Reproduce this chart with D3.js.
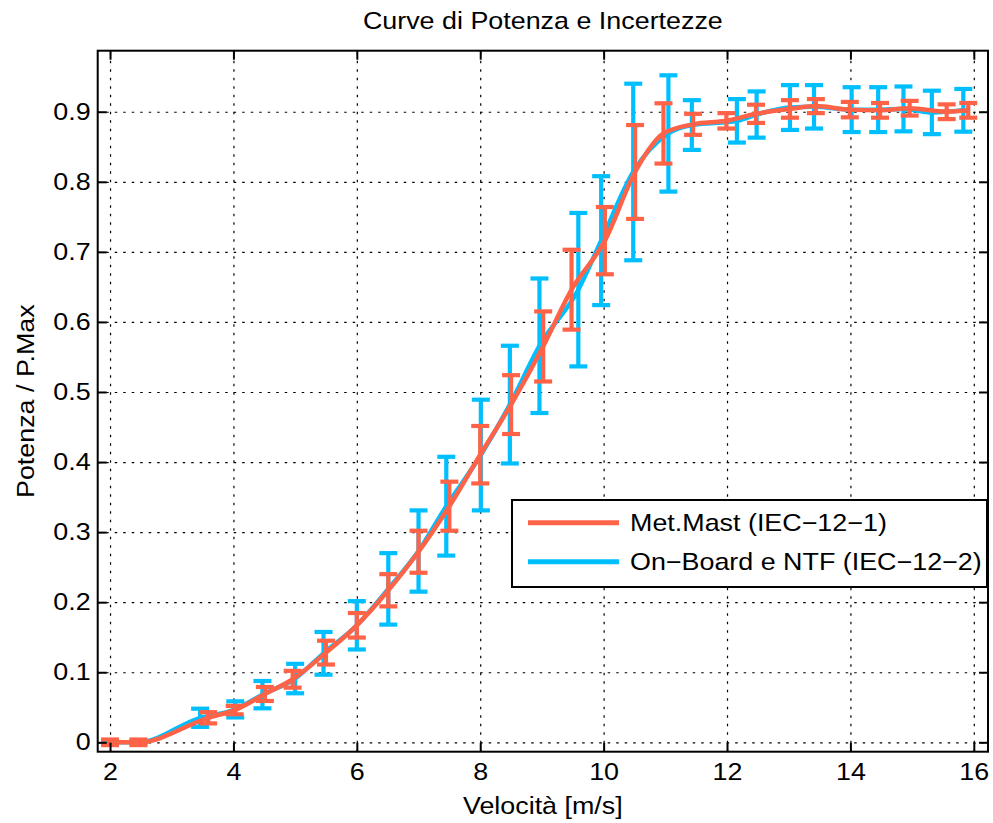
<!DOCTYPE html>
<html>
<head>
<meta charset="utf-8">
<script src="https://cdn.jsdelivr.net/npm/d3@7"></script>
<style>
  body { margin: 0; background: #fff; }
  svg text { font-family: "Liberation Sans", Arial, Helvetica, sans-serif; fill: #000; }
</style>
</head>
<body>
<svg id="chart" width="993" height="823"></svg>
<script>
// Met.Mast (IEC-12-1): wind speed bins, normalised power, uncertainty
const mastSpeed = [2.0, 2.46, 3.59, 4.02, 4.51, 4.96, 5.5, 6.0, 6.51, 7.0, 7.5, 8.0, 8.5, 9.02,
  9.48, 10.02, 10.51, 10.97, 11.45, 11.99, 12.47, 13.02, 13.44, 13.99, 14.48, 14.96, 15.56, 15.91];
const mastPower = [0, 0, 0.035, 0.046, 0.069, 0.090, 0.128, 0.167, 0.217, 0.272, 0.337, 0.4105, 0.482, 0.565,
  0.646, 0.716, 0.814, 0.869, 0.882, 0.887, 0.897, 0.904, 0.908, 0.903, 0.902, 0.905, 0.900, 0.902];
const mastErr = [0.004, 0.004, 0.008, 0.006, 0.010, 0.012, 0.017, 0.0175, 0.023, 0.030, 0.035, 0.041, 0.042, 0.050,
  0.057, 0.048, 0.067, 0.043, 0.015, 0.011, 0.013, 0.0125, 0.010, 0.011, 0.0105, 0.0105, 0.0105, 0.0105];

// On-Board e NTF (IEC-12-2)
const boardSpeed = [2.0, 2.46, 3.46, 4.03, 4.47, 5.0, 5.46, 6.0, 6.51, 7.0, 7.45, 8.01, 8.48, 8.96,
  9.59, 9.96, 10.48, 11.05, 11.43, 12.16, 12.48, 13.02, 13.41, 14.02, 14.45, 14.86, 15.32, 15.83];
const boardPower = [0, 0, 0.035, 0.047, 0.068, 0.091, 0.127, 0.167, 0.219, 0.273, 0.337, 0.41, 0.482, 0.566,
  0.646, 0.716, 0.814, 0.869, 0.881, 0.887, 0.896, 0.906, 0.907, 0.903, 0.903, 0.904, 0.899, 0.902];
const boardErr = [0.002, 0.002, 0.013, 0.0115, 0.0195, 0.021, 0.0305, 0.0345, 0.051, 0.058, 0.0705, 0.079, 0.084, 0.096,
  0.1095, 0.092, 0.126, 0.083, 0.0355, 0.031, 0.033, 0.032, 0.031, 0.032, 0.032, 0.032, 0.031, 0.0305];

const xTicks = [2, 4, 6, 8, 10, 12, 14, 16];
const yTicks = [0, 0.1, 0.2, 0.3, 0.4, 0.5, 0.6, 0.7, 0.8, 0.9];
const seriesNames = ["Met.Mast (IEC\u221212\u22121)", "On\u2212Board e NTF (IEC\u221212\u22122)"];
const seriesColors = ["#FF6347", "#00BFFF"];
const titleText = "Curve di Potenza e Incertezze";
const xLabelText = "Velocit\u00e0 [m/s]";
const yLabelText = "Potenza / P.Max";

// ---- layout ----
const plotL = 97.7, plotR = 988, plotT = 50.7, plotB = 751.7;
const STRETCH = 1.12;      // wide text rendering
const FONT = 24;

const svg = d3.select("#chart");
const x = d3.scaleLinear().domain([1.8, 16.23]).range([plotL, plotR]);
const y = d3.scaleLinear().domain([-0.0134, 0.9871]).range([plotB, plotT]);

function wideText(g, px, py, str, anchor, rotate) {
  return g.append("text")
    .attr("transform", `translate(${px},${py})` + (rotate ? ` rotate(${rotate})` : "") + ` scale(${STRETCH},1)`)
    .attr("text-anchor", anchor || "start")
    .attr("font-size", FONT)
    .text(str);
}

// ---- grid ----
const grid = svg.append("g").attr("class", "grid");
grid.append("g")
  .attr("transform", `translate(0,${plotB})`)
  .call(d3.axisBottom(x).tickValues(xTicks).tickSize(-(plotB - plotT)).tickFormat(""))
  .call(g => g.select(".domain").remove());
grid.append("g")
  .attr("transform", `translate(${plotL},0)`)
  .call(d3.axisLeft(y).tickValues(yTicks).tickSize(-(plotR - plotL)).tickFormat(""))
  .call(g => g.select(".domain").remove());
grid.selectAll("line")
  .attr("stroke", "#000")
  .attr("stroke-width", 1.2)
  .attr("stroke-dasharray", "2.5,6");

// ---- series ----
const series = [
  { speed: boardSpeed, power: boardPower, err: boardErr, color: seriesColors[1] },
  { speed: mastSpeed, power: mastPower, err: mastErr, color: seriesColors[0] }
];
const line = d3.line().x(d => x(d.s)).y(d => y(d.p)).curve(d3.curveMonotoneX);
const capHalf = 9;

series.forEach(sr => {
  const pts = sr.speed.map((s, i) => ({ s, p: sr.power[i], e: sr.err[i] }));
  const g = svg.append("g");
  g.append("path").datum(pts)
    .attr("d", line)
    .attr("fill", "none")
    .attr("stroke", sr.color)
    .attr("stroke-width", 4.5)
    .attr("stroke-linejoin", "round");
  const eb = g.selectAll("g.eb").data(pts).join("g").attr("class", "eb")
    .attr("stroke", sr.color).attr("stroke-width", 4.2);
  eb.append("line")
    .attr("x1", d => x(d.s)).attr("x2", d => x(d.s))
    .attr("y1", d => y(d.p - d.e)).attr("y2", d => y(d.p + d.e));
  eb.append("line")
    .attr("x1", d => x(d.s) - capHalf).attr("x2", d => x(d.s) + capHalf)
    .attr("y1", d => y(d.p + d.e)).attr("y2", d => y(d.p + d.e));
  eb.append("line")
    .attr("x1", d => x(d.s) - capHalf).attr("x2", d => x(d.s) + capHalf)
    .attr("y1", d => y(d.p - d.e)).attr("y2", d => y(d.p - d.e));
});

// ---- axes (inward ticks on all four sides) ----
const tickLen = 9;
const axes = svg.append("g").attr("class", "axes");

const xAxis = axes.append("g")
  .attr("transform", `translate(0,${plotB})`)
  .call(d3.axisBottom(x).tickValues(xTicks).tickSizeInner(-tickLen).tickSizeOuter(0).tickPadding(11)
    .tickFormat(d3.format("d")));
xAxis.selectAll("text")
  .attr("font-size", FONT)
  .attr("transform", `scale(${STRETCH},1)`);

const yAxis = axes.append("g")
  .attr("transform", `translate(${plotL},0)`)
  .call(d3.axisLeft(y).tickValues(yTicks).tickSizeInner(-tickLen).tickSizeOuter(0).tickPadding(7)
    .tickFormat(d => d === 0 ? "0" : d3.format(".1f")(d)));
yAxis.selectAll("text")
  .attr("font-size", FONT)
  .attr("x", -7 / STRETCH)
  .attr("transform", `scale(${STRETCH},1)`);

axes.append("g")
  .attr("transform", `translate(0,${plotT})`)
  .call(d3.axisTop(x).tickValues(xTicks).tickSizeInner(-tickLen).tickSizeOuter(0).tickFormat(""));
axes.append("g")
  .attr("transform", `translate(${plotR},0)`)
  .call(d3.axisRight(y).tickValues(yTicks).tickSizeInner(-tickLen).tickSizeOuter(0).tickFormat(""));

axes.selectAll(".domain").remove();
axes.selectAll(".tick line").attr("stroke", "#000").attr("stroke-width", 2);
axes.selectAll("g").attr("font-family", null);

svg.append("rect")
  .attr("x", plotL).attr("y", plotT)
  .attr("width", plotR - plotL).attr("height", plotB - plotT)
  .attr("fill", "none").attr("stroke", "#000").attr("stroke-width", 2);

// ---- titles ----
const labels = svg.append("g");
wideText(labels, (plotL + plotR) / 2, 29, titleText, "middle");
wideText(labels, (plotL + plotR) / 2, 814, xLabelText, "middle");
wideText(labels, 34, (plotT + plotB) / 2, yLabelText, "middle", -90);

// ---- legend ----
const legend = svg.append("g");
legend.append("rect")
  .attr("x", 512).attr("y", 500).attr("width", 475).attr("height", 87)
  .attr("fill", "#fff").attr("stroke", "#000").attr("stroke-width", 2);
seriesNames.forEach((name, i) => {
  const cy = 522.7 + i * 39;
  legend.append("line")
    .attr("x1", 528).attr("x2", 619).attr("y1", cy).attr("y2", cy)
    .attr("stroke", seriesColors[i]).attr("stroke-width", 5);
  wideText(legend, 630, cy + 8.5, name, "start");
});
</script>
</body>
</html>
